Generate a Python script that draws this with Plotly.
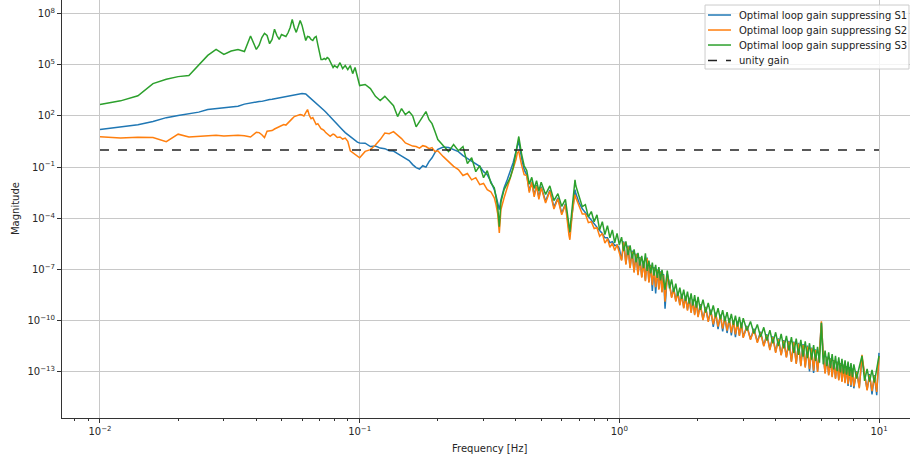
import plotly.graph_objects as go

# Frequency grid shared by the three loop-gain curves (Hz)
FREQ_HZ = [
    # 0.01 - 0.1 Hz
    0.010, 0.012, 0.014, 0.016, 0.018, 0.020, 0.022, 0.024, 0.026, 0.028,
    0.030, 0.032, 0.034, 0.036, 0.038, 0.040,
    0.041, 0.042, 0.043, 0.044, 0.045, 0.046, 0.047, 0.048, 0.049, 0.050,
    0.051, 0.052, 0.053, 0.054, 0.055, 0.056, 0.057, 0.058, 0.059, 0.060,
    0.061, 0.062, 0.063, 0.064, 0.065, 0.066, 0.067, 0.068, 0.069, 0.070,
    0.071, 0.072, 0.073, 0.074, 0.075, 0.076, 0.077, 0.078, 0.079, 0.080,
    0.082, 0.084, 0.086, 0.088, 0.090, 0.092, 0.094, 0.096, 0.098, 0.100,
    # 0.1 - 1 Hz
    0.105, 0.110, 0.115, 0.120, 0.125, 0.130, 0.135, 0.140, 0.145, 0.150,
    0.155, 0.160, 0.165, 0.170, 0.175, 0.180, 0.185, 0.190, 0.195, 0.200,
    0.21, 0.22, 0.23, 0.24, 0.25, 0.26, 0.27, 0.28, 0.29, 0.30, 0.31, 0.32, 0.33,
    0.335, 0.34, 0.345, 0.35, 0.36, 0.37, 0.38, 0.39, 0.40, 0.405, 0.41,
    0.42, 0.43, 0.44, 0.45, 0.46, 0.47, 0.48, 0.49, 0.50,
    0.52, 0.54, 0.56, 0.58, 0.60, 0.62,
    0.63, 0.64, 0.645, 0.65, 0.66, 0.67, 0.675, 0.68,
    0.70, 0.72, 0.74, 0.76, 0.78, 0.80, 0.82, 0.84, 0.86, 0.88,
    0.90, 0.92, 0.94, 0.96, 0.98, 1.00,
    # 1 - 10 Hz
    1.02, 1.04, 1.06, 1.08, 1.10, 1.12, 1.14, 1.16, 1.18, 1.20,
    1.22, 1.24, 1.26, 1.28, 1.30, 1.32, 1.34, 1.36, 1.38, 1.40,
    1.42, 1.44, 1.46, 1.48, 1.50,
    1.53, 1.56, 1.59, 1.62, 1.65, 1.68, 1.71, 1.74, 1.77, 1.80,
    1.83, 1.86, 1.89, 1.92, 1.95, 1.98, 2.01,
    2.05, 2.10, 2.15, 2.20, 2.25, 2.30, 2.35, 2.40, 2.45, 2.50,
    2.55, 2.60, 2.65, 2.70, 2.75, 2.80, 2.85, 2.90, 2.95, 3.00,
    3.1, 3.2, 3.3, 3.4, 3.5, 3.6, 3.7, 3.8, 3.9, 4.0,
    4.1, 4.2, 4.3, 4.4, 4.5,
    4.6, 4.7, 4.8, 4.9, 5.0, 5.1, 5.2, 5.3, 5.4, 5.5,
    5.6, 5.7, 5.8, 5.9, 6.0, 6.1, 6.2, 6.3, 6.4, 6.5,
    6.6, 6.7, 6.8, 6.9, 7.0, 7.1, 7.2, 7.3, 7.4, 7.5,
    7.6, 7.7, 7.8, 7.9, 8.0,
    8.2, 8.4, 8.6, 8.8, 9.0, 9.2, 9.4, 9.6, 9.8, 10.0,
]

# Optimal loop gain suppressing S1
GAIN_S1 = [
    16, 22, 30, 47, 79, 107, 135, 166, 234, 269,
    309, 355, 372, 490, 589, 646,
    692, 708, 794, 851, 912, 955, 1023, 1096, 1148, 1175,
    1259, 1349, 1445, 1549, 1622, 1698, 1820, 1950, 2042, 2042,
    2000, 1905, 1549, 1259, 1023, 851, 692, 562, 490, 398,
    331, 269, 209, 170, 135, 112, 91, 69, 56, 47,
    31, 20, 15, 10.5, 7.9, 6.2, 4.7, 3.5, 2.9, 2.6,
    2.5, 1.6, 1.7, 1.3, 1.2, 0.91, 0.87, 0.62, 0.44, 0.33,
    0.24, 0.14, 0.093, 0.076, 0.12, 0.10, 0.21, 0.35, 0.71, 1.1,
    1.5, 1.4, 1.05, 0.81, 0.47, 0.32, 0.21, 0.14, 0.11, 0.054, 0.036, 0.014, 0.0048,
    2.1e-3, 9.3e-4, 3.2e-4, 1.2e-3, 6.2e-3, 0.018, 0.054, 0.18, 0.81, 1.8, 3.5,
    0.35, 0.071, 0.035, 4.0e-3, 0.014, 2.2e-3, 8.9e-3, 1.6e-3, 7.1e-3,
    1.0e-3, 4.5e-3, 4.5e-4, 1.6e-3, 2.0e-4, 7.1e-4,
    7.9e-5, 2.1e-5, 1.3e-5, 4.2e-5, 3.2e-4, 1.9e-3, 4.8e-3, 2.8e-3,
    8.1e-4, 3.6e-4, 2.1e-4, 1.2e-4, 7.2e-5, 4.8e-5, 2.8e-5, 1.9e-5, 1.3e-5, 7.2e-6,
    7.2e-6, 3.7e-6, 4.3e-6, 2.5e-6, 2.8e-6, 1.7e-6,
    3.7e-7, 4.4e-6, 2.2e-7, 2.5e-6, 1.3e-7, 1.3e-6, 7.4e-8, 8.7e-7, 5.2e-8, 5.4e-7,
    3.7e-8, 3.2e-7, 2.3e-8, 5.0e-7, 1.9e-8, 1.9e-7, 5.5e-9, 1.4e-7, 4.0e-9, 1.0e-7,
    7.4e-9, 7.8e-8, 5.1e-9, 5.4e-8, 5.0e-10,
    5.6e-8, 1.5e-8, 2.5e-9, 8.3e-9, 1.5e-9, 4.9e-9, 8.9e-10, 3.7e-9, 5.9e-10, 2.9e-9,
    4.4e-10, 2.2e-9, 3.2e-10, 1.8e-9, 2.4e-10, 1.4e-9, 1.8e-10,
    9.5e-10, 1.2e-10, 6.5e-10, 9.5e-11, 4.4e-10, 4.4e-11, 3.0e-10, 3.2e-11, 2.3e-10, 2.4e-11,
    1.8e-10, 1.9e-11, 1.4e-10, 1.4e-11, 1.1e-10, 1.1e-11, 9.3e-11, 1.4e-11, 7.8e-11, 1.1e-11,
    5.0e-11, 8.5e-12, 3.4e-11, 5.8e-12, 2.3e-11, 3.5e-12, 1.6e-11, 2.2e-12, 1.2e-11, 1.5e-12,
    9.3e-12, 1.0e-12, 7.2e-12, 7.6e-13, 6.6e-12,
    4.3e-13, 6.0e-12, 3.2e-13, 5.0e-12, 2.5e-13, 4.3e-12, 2.0e-13, 3.5e-12, 1.05e-13, 2.7e-12,
    8.7e-14, 2.1e-12, 1.1e-13, 1.6e-12, 7.6e-11, 1.0e-12, 8.9e-14, 7.8e-13, 6.9e-14, 6.2e-13,
    5.5e-14, 4.9e-13, 4.4e-14, 4.0e-13, 3.5e-14, 3.3e-13, 3.0e-14, 2.7e-13, 2.5e-14, 2.2e-13,
    1.5e-14, 1.9e-13, 1.3e-14, 1.6e-13, 1.1e-14,
    1.1e-13, 1.3e-14, 6.6e-13, 8.5e-14, 9.3e-15, 7.4e-14, 4.8e-15, 6.6e-14, 4.3e-15, 1.3e-12,
]

# Optimal loop gain suppressing S2
GAIN_S2 = [
    5.9, 5.0, 5.6, 5.4, 3.1, 8.5, 5.8, 6.2, 6.9, 7.4,
    6.6, 6.9, 7.4, 6.9, 5.8, 11,
    10.5, 7.9, 5.4, 12.6, 12.6, 13.8, 17, 20, 23, 29,
    31, 29, 41, 52, 69, 91, 98, 105, 120, 112,
    98, 155, 234, 105, 69, 79, 47, 31, 35, 23,
    18, 16, 13.8, 10.5, 9.1, 7.4, 6.3, 7.4, 8.5, 7.9,
    5.4, 5.8, 4.4, 5.0, 3.2, 0.91, 0.71, 0.62, 0.47, 0.35,
    0.83, 1.05, 1.95, 4.1, 10, 9.1, 12, 7.9, 4.7, 2.6,
    2.1, 1.7, 1.6, 1.3, 1.8, 1.6, 1.2, 1.4, 0.81, 0.91,
    0.41, 0.21, 0.11, 0.071, 0.032, 0.042, 0.018, 0.024, 0.0093, 0.011, 0.0048, 0.0036, 0.0016,
    6.3e-4, 1.9e-4, 1.4e-5, 3.2e-4, 1.6e-3, 6.2e-3, 0.018, 0.071, 0.28, 0.71, 0.81,
    0.14, 0.036, 0.032, 3.2e-3, 0.013, 1.8e-3, 7.9e-3, 1.3e-3, 6.3e-3,
    7.9e-4, 4.0e-3, 3.5e-4, 1.4e-3, 1.6e-4, 6.3e-4,
    6.3e-5, 9.5e-6, 5.5e-6, 2.8e-5, 2.5e-4, 1.2e-3, 2.4e-3, 1.6e-3,
    5.6e-4, 1.8e-4, 1.8e-4, 5.6e-5, 6.3e-5, 2.5e-5, 2.8e-5, 8.9e-6, 1.3e-5, 3.5e-6,
    6.3e-6, 2.0e-6, 3.5e-6, 1.3e-6, 2.8e-6, 1.0e-6,
    3.3e-7, 3.9e-6, 1.9e-7, 2.2e-6, 1.2e-7, 1.1e-6, 6.6e-8, 7.8e-7, 4.7e-8, 4.8e-7,
    3.3e-8, 2.8e-7, 2.1e-8, 4.5e-7, 1.7e-8, 1.7e-7, 1.2e-8, 1.2e-7, 9.1e-9, 9.3e-8,
    6.6e-9, 6.9e-8, 4.6e-9, 4.8e-8, 1.3e-9,
    4.3e-8, 1.3e-8, 2.2e-9, 7.4e-9, 1.3e-9, 4.4e-9, 7.9e-10, 3.3e-9, 5.2e-10, 2.6e-9,
    3.9e-10, 2.0e-9, 2.9e-10, 1.6e-9, 2.1e-10, 1.3e-9, 1.6e-10,
    8.5e-10, 1.1e-10, 5.8e-10, 8.5e-11, 3.9e-10, 6.2e-11, 2.7e-10, 4.5e-11, 2.0e-10, 3.4e-11,
    1.6e-10, 2.6e-11, 1.2e-10, 2.0e-11, 1.0e-10, 1.6e-11, 8.3e-11, 1.3e-11, 6.9e-11, 1.0e-11,
    4.5e-11, 7.6e-12, 3.0e-11, 5.1e-12, 2.0e-11, 3.2e-12, 1.4e-11, 1.9e-12, 1.1e-11, 1.3e-12,
    8.3e-12, 9.3e-13, 6.5e-12, 6.8e-13, 5.9e-12,
    3.8e-13, 5.4e-12, 2.9e-13, 4.5e-12, 2.2e-13, 3.8e-12, 1.8e-13, 3.1e-12, 1.5e-13, 2.4e-12,
    1.2e-13, 1.9e-12, 1.0e-13, 1.4e-12, 9.1e-11, 8.9e-13, 7.9e-14, 6.9e-13, 6.2e-14, 5.5e-13,
    4.9e-14, 4.4e-13, 3.9e-14, 3.5e-13, 3.2e-14, 3.0e-13, 2.6e-14, 2.4e-13, 2.2e-14, 2.0e-13,
    1.9e-14, 1.7e-13, 1.6e-14, 1.4e-13, 1.4e-14,
    1.0e-13, 1.1e-14, 1.0e-12, 7.6e-14, 8.3e-15, 6.6e-14, 7.6e-15, 5.9e-14, 6.8e-15, 7.6e-13,
]

# Optimal loop gain suppressing S3
GAIN_S3 = [
    4.6e2, 7.6e2, 1.5e3, 7.8e3, 1.4e4, 2.0e4, 2.3e4, 8.9e4, 3.5e5, 7.8e5,
    4.0e5, 6.3e5, 7.8e5, 5.9e5, 4.8e6, 7.8e5,
    1.4e6, 3.9e6, 6.8e6, 5.1e6, 1.7e6, 3.0e6, 1.2e7, 5.1e6, 3.0e6, 5.9e6,
    5.1e6, 4.5e6, 7.4e6, 1.5e7, 4.5e7, 1.5e7, 7.8e6, 2.0e7, 3.9e7, 2.0e7,
    6.0e6, 2.6e6, 4.5e6, 4.2e6, 3.0e6, 2.6e6, 3.9e6, 4.5e6, 1.5e6, 5.1e5,
    2.0e5, 2.0e5, 2.3e5, 2.0e5, 2.6e5, 2.3e5, 1.5e5, 1.2e5, 6.8e4, 8.9e4,
    6.8e4, 1.3e5, 5.9e4, 8.9e4, 5.2e4, 8.9e4, 3.0e4, 6.8e4, 2.0e4, 6.0e3,
    6.9e3, 4.0e3, 1.4e3, 7.9e2, 1.4e3, 7.9e2, 4.0e2, 9.1e1, 2.7e2, 1.2e2,
    1.8e2, 1.0e2, 2.3e1, 4.6e1, 1.0e2, 1.8e2, 6.0e1, 3.5e1, 1.2e1, 4.1,
    1.8, 0.81, 2.1, 0.91, 1.6, 0.16, 0.35, 0.054, 0.12, 0.024, 0.062, 0.012, 0.0062,
    1.6e-3, 4.8e-4, 3.2e-5, 9.3e-4, 4.8e-3, 1.2e-2, 2.4e-2, 9.3e-2, 0.81, 3.1, 6.2,
    0.62, 0.12, 0.063, 0.010, 0.025, 5.6e-3, 0.016, 4.0e-3, 0.013,
    2.5e-3, 7.9e-3, 1.1e-3, 2.8e-3, 5.0e-4, 1.3e-3,
    2.0e-4, 3.7e-5, 1.6e-5, 6.3e-5, 6.3e-4, 4.8e-3, 1.8e-2, 8.1e-3,
    1.9e-3, 4.8e-4, 6.3e-4, 1.2e-4, 2.5e-4, 6.3e-5, 1.6e-4, 2.1e-5, 6.3e-5, 1.1e-5,
    3.7e-5, 7.2e-6, 2.1e-5, 3.7e-6, 1.3e-5, 2.8e-6,
    7.8e-6, 1.2e-6, 4.5e-6, 6.9e-7, 2.6e-6, 4.3e-7, 1.5e-6, 2.6e-7, 9.5e-7, 1.7e-7,
    6.3e-7, 1.2e-7, 8.9e-7, 8.3e-8, 3.3e-7, 6.0e-8, 2.5e-7, 4.4e-8, 1.9e-7, 3.2e-8,
    1.4e-7, 2.3e-8, 9.5e-8, 1.6e-8, 6.5e-9,
    8.5e-8, 7.9e-9, 2.6e-8, 4.7e-9, 1.5e-8, 2.8e-9, 8.7e-9, 1.9e-9, 6.6e-9, 1.4e-9,
    5.1e-9, 1.0e-9, 4.0e-9, 7.6e-10, 3.2e-9, 5.8e-10, 2.5e-9,
    4.3e-10, 1.7e-9, 3.0e-10, 1.1e-9, 2.2e-10, 7.8e-10, 1.6e-10, 5.4e-10, 1.2e-10, 4.1e-10,
    9.3e-11, 3.2e-10, 7.2e-11, 2.5e-10, 5.6e-11, 2.0e-10, 4.5e-11, 1.7e-10, 3.6e-11, 1.4e-10,
    2.7e-11, 8.9e-11, 1.8e-11, 6.0e-11, 1.1e-11, 4.1e-11, 6.9e-12, 2.8e-11, 4.7e-12, 2.1e-11,
    3.3e-12, 1.7e-11, 2.4e-12, 1.3e-11, 1.8e-12,
    1.1e-11, 1.3e-12, 8.9e-12, 1.0e-12, 7.6e-12, 7.9e-13, 6.2e-12, 6.5e-13, 4.8e-12, 5.2e-13,
    3.7e-12, 4.4e-13, 2.9e-12, 3.5e-13, 7.6e-11, 2.8e-13, 1.8e-12, 2.2e-13, 1.4e-12, 1.7e-13,
    1.1e-12, 1.4e-13, 8.7e-13, 1.1e-13, 7.1e-13, 9.3e-14, 5.9e-13, 7.9e-14, 4.8e-13, 6.8e-14,
    4.0e-13, 5.8e-14, 3.3e-13, 5.0e-14, 2.8e-13,
    4.1e-14, 2.0e-13, 8.7e-13, 3.0e-14, 1.5e-13, 2.7e-14, 1.3e-13, 2.4e-14, 1.2e-13, 8.7e-13,
]

# Unity-gain reference line
UNITY_FREQ = [0.01, 10.0]
UNITY_GAIN = [1.0, 1.0]

SERIES = [
    ("Optimal loop gain suppressing S1", GAIN_S1, "#1f77b4", "solid"),
    ("Optimal loop gain suppressing S2", GAIN_S2, "#ff7f0e", "solid"),
    ("Optimal loop gain suppressing S3", GAIN_S3, "#2ca02c", "solid"),
]
UNITY = ("unity gain", "#222222", "dash")

X_TICKS = [0.01, 0.1, 1, 10]
X_TICK_TEXT = ["10<sup>\u22122</sup>", "10<sup>\u22121</sup>", "10<sup>0</sup>", "10<sup>1</sup>"]
Y_TICKS = [1e-13, 1e-10, 1e-7, 1e-4, 1e-1, 1e2, 1e5, 1e8]
Y_TICK_TEXT = ["10<sup>\u221213</sup>", "10<sup>\u221210</sup>", "10<sup>\u22127</sup>",
               "10<sup>\u22124</sup>", "10<sup>\u22121</sup>", "10<sup>2</sup>",
               "10<sup>5</sup>", "10<sup>8</sup>"]

for _, values, _, _ in SERIES:
    assert len(values) == len(FREQ_HZ)

FONT = "DejaVu Sans, Verdana, sans-serif"
TEXT_COLOR = "#262626"
AXIS_COLOR = "#333333"
GRID_COLOR = "#c8c8c8"

fig = go.Figure()
for name, values, color, dash in SERIES:
    fig.add_trace(go.Scatter(
        x=FREQ_HZ, y=values, mode="lines", name=name, showlegend=False,
        line=dict(color=color, width=1.5, dash=dash),
    ))
fig.add_trace(go.Scatter(
    x=UNITY_FREQ, y=UNITY_GAIN, mode="lines", name=UNITY[0], showlegend=False,
    line=dict(color=UNITY[1], width=1.5, dash=UNITY[2]),
))

# Compact legend box in the upper-right corner (plot-area fractions)
LEG_X0, LEG_X1 = 0.7583, 0.9988
LEG_Y0, LEG_Y1 = 0.8349, 0.9880
LEG_ROWS = [0.9641, 0.9282, 0.8923, 0.8553]
SAMPLE_X0, SAMPLE_X1, LABEL_X = 0.7618, 0.7889, 0.7960

shapes = [dict(type="rect", xref="paper", yref="paper", layer="above",
               x0=LEG_X0, x1=LEG_X1, y0=LEG_Y0, y1=LEG_Y1,
               fillcolor="rgba(255,255,255,0.8)",
               line=dict(color="#cccccc", width=1))]
annotations = []
legend_entries = [(n, c, d) for n, _, c, d in SERIES] + [UNITY]
for (name, color, dash), yrow in zip(legend_entries, LEG_ROWS):
    shapes.append(dict(type="line", xref="paper", yref="paper", layer="above",
                       x0=SAMPLE_X0, x1=SAMPLE_X1, y0=yrow, y1=yrow,
                       line=dict(color=color, width=1.5, dash=dash)))
    annotations.append(dict(text=name, xref="paper", yref="paper",
                            x=LABEL_X, y=yrow, xanchor="left", yanchor="middle",
                            showarrow=False,
                            font=dict(family=FONT, size=10, color="#222222")))

annotations += [
    dict(text="Frequency [Hz]", xref="paper", yref="paper",
         x=0.5047, y=-0.074, xanchor="center", yanchor="middle",
         showarrow=False, font=dict(family=FONT, size=10, color=TEXT_COLOR)),
    dict(text="Magnitude", xref="paper", yref="paper",
         x=-0.0554, y=0.5, xanchor="center", yanchor="middle",
         textangle=-90, showarrow=False,
         font=dict(family=FONT, size=10, color=TEXT_COLOR)),
]

fig.update_layout(
    width=910, height=462,
    margin=dict(l=62, r=0, t=0, b=44),
    plot_bgcolor="white", paper_bgcolor="white",
    font=dict(family=FONT, size=10, color=TEXT_COLOR),
    showlegend=False,
    shapes=shapes,
    annotations=annotations,
    xaxis=dict(
        type="log", range=[-2.1463, 1.1194],
        tickmode="array", tickvals=X_TICKS, ticktext=X_TICK_TEXT,
        showgrid=True, gridcolor=GRID_COLOR, gridwidth=1,
        ticks="outside", ticklen=4, tickcolor=AXIS_COLOR,
        showline=True, linecolor=AXIS_COLOR, linewidth=1, mirror=True,
        zeroline=False,
        minor=dict(ticks="outside", ticklen=2, tickcolor=AXIS_COLOR,
                   tickmode="linear", dtick="D1", showgrid=False),
        tickfont=dict(family=FONT, size=10, color=TEXT_COLOR),
    ),
    yaxis=dict(
        type="log", range=[-15.70, 8.79],
        tickmode="array", tickvals=Y_TICKS, ticktext=Y_TICK_TEXT,
        showgrid=True, gridcolor=GRID_COLOR, gridwidth=1,
        ticks="outside", ticklen=4, tickcolor=AXIS_COLOR,
        showline=True, linecolor=AXIS_COLOR, linewidth=1, mirror=False,
        zeroline=False,
        tickfont=dict(family=FONT, size=10, color=TEXT_COLOR),
    ),
)

fig.write_html("out.html")
